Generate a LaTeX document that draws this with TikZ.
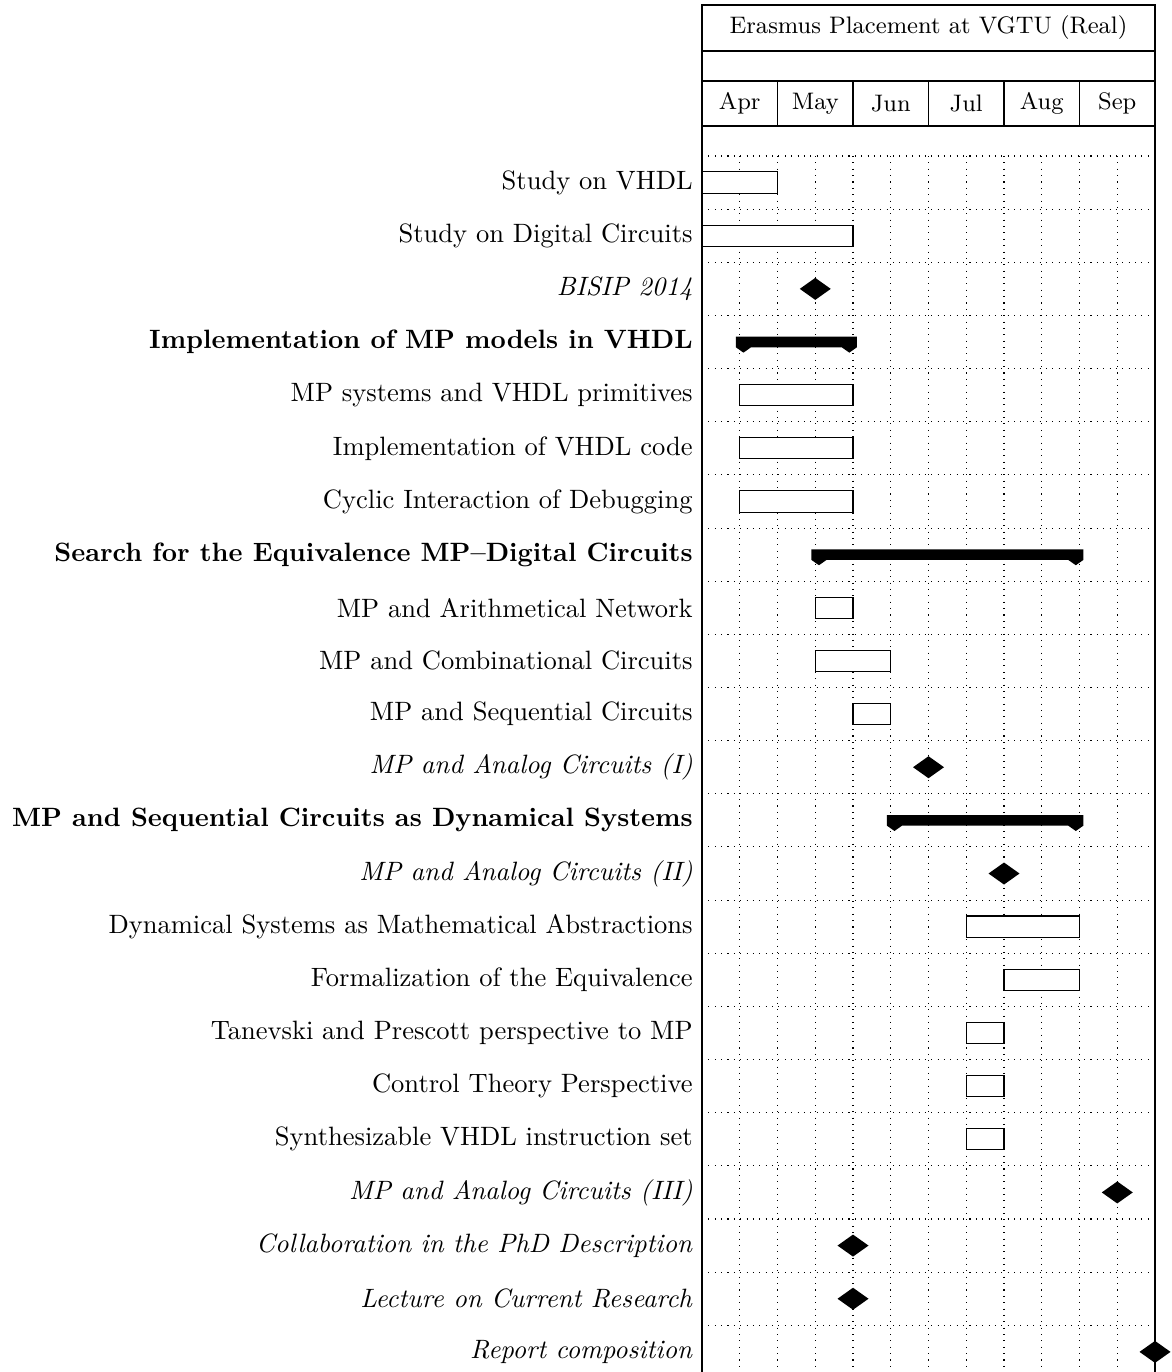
\documentclass[tikz,border=0pt]{standalone}
\begin{document}
\begin{tikzpicture}[x=0.3769pt,y=-0.3769pt,
  gridline/.style={dotted, line width=0.4pt},
  frameline/.style={line width=0.4pt},
  taskbar/.style={draw, fill=white, line width=0.4pt},
  groupbar/.style={fill=black},
  milestone/.style={fill=black},
  headtext/.style={font=\fontsize{9pt}{11pt}\selectfont},
  lbl/.style={anchor=east}]
\useasboundingbox (0,0) rectangle (1171,1372);
% grid
\foreach \k in {0,...,22} \draw[gridline] (702,{156+\k*53.15}) -- (1155,{156+\k*53.15});
\foreach \j in {1,...,11} \draw[gridline] ({702+\j*37.75},156) -- ({702+\j*37.75},1380);
% frame and header
\draw[frameline] (702,1380) -- (702,5) -- (1155,5) -- (1155,1380);
\draw[frameline] (702,51) -- (1155,51);
\draw[frameline] (702,81) -- (1155,81);
\draw[frameline] (702,126) -- (1155,126);
\foreach \j in {1,...,5} \draw[frameline] ({702+\j*75.5},81) -- ({702+\j*75.5},126);
\node[headtext] (title) at (928.5,28) {Erasmus Placement at VGTU (Real)};
\foreach \m [count=\i] in {Apr,May,Jun,Jul,Aug,Sep}
  \node[headtext] (month\i) at ({702+(\i-0.5)*75.5},103.5) {\m};
% task bars
\foreach \r/\s/\e/\t in {1/0/2/Study on VHDL,2/0/4/Study on Digital Circuits,
  5/1/4/MP systems and VHDL primitives,6/1/4/Implementation of VHDL code,
  7/1/4/Cyclic Interaction of Debugging,9/3/4/MP and Arithmetical Network,
  10/3/5/MP and Combinational Circuits,11/4/5/MP and Sequential Circuits,
  15/7/10/Dynamical Systems as Mathematical Abstractions,
  16/8/10/Formalization of the Equivalence,
  17/7/8/Tanevski and Prescott perspective to MP,
  18/7/8/Control Theory Perspective,19/7/8/Synthesizable VHDL instruction set}{
  \pgfmathsetmacro\top{156+(\r-1)*53.15}
  \draw[taskbar] ({702+\s*37.75},{\top+15.9}) rectangle ({702+\e*37.75},{\top+37.2});
  \node[lbl] (label\r) at (702,{\top+26.575}) {\t};
}
% groups
\foreach \r/\s/\e/\t in {4/1/4/Implementation of MP models in VHDL,
  8/3/10/Search for the Equivalence MP--Digital Circuits,
  13/5/10/MP and Sequential Circuits as Dynamical Systems}{
  \pgfmathsetmacro\top{156+(\r-1)*53.15}
  \pgfmathsetmacro\L{702+\s*37.75-3.8}
  \pgfmathsetmacro\R{702+\e*37.75+3.8}
  \pgfmathsetmacro\T{\top+21.3}
  \pgfmathsetmacro\B{\top+31.9}
  \pgfmathsetmacro\P{\top+37.2}
  \fill[groupbar] (\L,\T) -- (\R,\T) -- (\R,\B) -- ({\R-7.5},\P) -- ({\R-15},\B)
    -- ({\L+15},\B) -- ({\L+7.5},\P) -- (\L,\B) -- cycle;
  \node[lbl] (label\r) at (702,{\top+26.575}) {\textbf{\t}};
}
% milestones
\foreach \r/\s/\t in {3/3/BISIP 2014,12/6/MP and Analog Circuits (I),
  14/8/MP and Analog Circuits (II),20/11/MP and Analog Circuits (III),
  21/4/Collaboration in the PhD Description,22/4/Lecture on Current Research,
  23/12/Report composition}{
  \pgfmathsetmacro\c{156+(\r-0.5)*53.15}
  \pgfmathsetmacro\X{702+\s*37.75}
  \fill[milestone] ({\X-15.5},\c) -- (\X,{\c-11}) -- ({\X+15.5},\c) -- (\X,{\c+11}) -- cycle;
  \node[lbl] (label\r) at (702,\c) {\textit{\t}};
}
\end{tikzpicture}
\end{document}
